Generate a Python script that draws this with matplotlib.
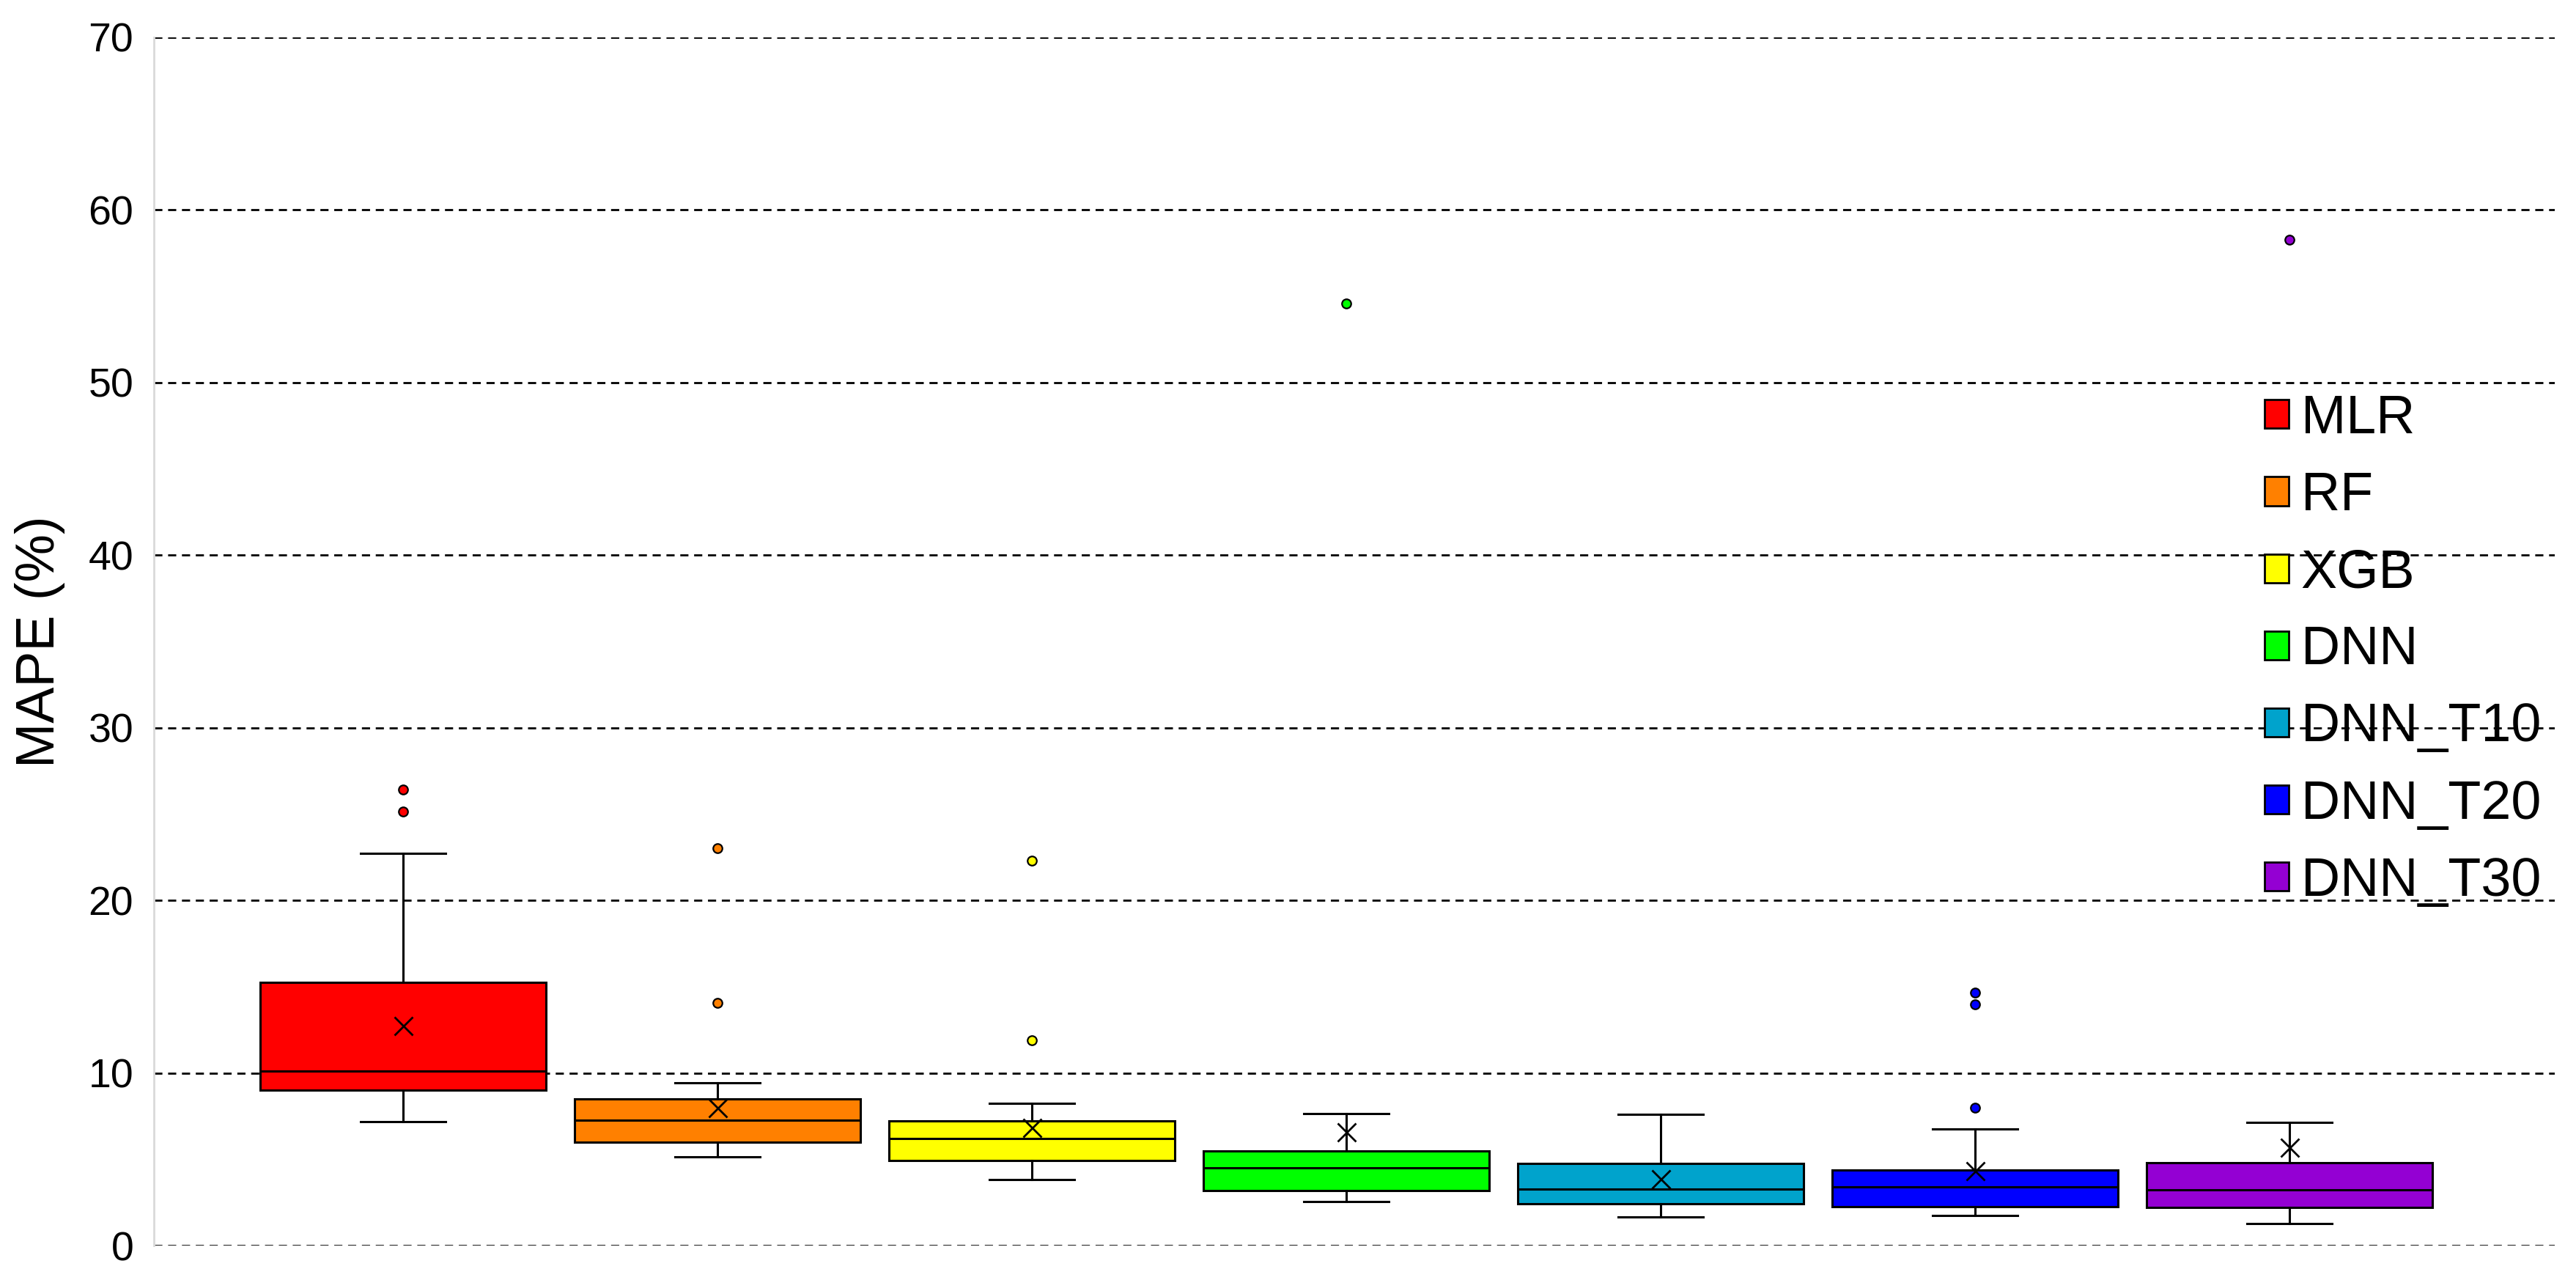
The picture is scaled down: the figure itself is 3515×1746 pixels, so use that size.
import matplotlib
matplotlib.use("Agg")
import matplotlib.pyplot as plt
from matplotlib.patches import Patch

plt.rcParams["font.family"] = ["Liberation Sans", "DejaVu Sans"]

# Valori (MAPE in %).
labels = ["MLR", "RF", "XGB", "DNN", "DNN_T10", "DNN_T20", "DNN_T30"]
colors = ["#FF0000", "#FF8000", "#FFFF00", "#00FF00", "#00A3CC", "#0000FF", "#9400D3"]
q1 = [8.99, 6.00, 4.91, 3.20, 2.41, 2.25, 2.19]
med = [10.10, 7.26, 6.21, 4.50, 3.27, 3.39, 3.23]
q3 = [15.27, 8.48, 7.22, 5.46, 4.75, 4.36, 4.79]
whislo = [7.16, 5.13, 3.83, 2.56, 1.64, 1.74, 1.26]
whishi = [22.74, 9.43, 8.24, 7.63, 7.61, 6.77, 7.12]
means = [12.74, 7.97, 6.86, 6.59, 3.87, 4.32, 5.70]
fliers = [[25.15, 26.43], [14.04, 23.02], [11.91, 22.31], [54.57], [], [7.97, 13.96, 14.67], [58.29]]
yticks = [0, 10, 20, 30, 40, 50, 60, 70]

stats = []
for i in range(len(labels)):
    stats.append({
        "label": labels[i], "q1": q1[i], "med": med[i], "q3": q3[i],
        "whislo": whislo[i], "whishi": whishi[i], "mean": means[i],
        "fliers": fliers[i],
    })

fig = plt.figure(figsize=(17.58, 8.73), dpi=200)
ax = fig.add_axes([0.0597, 0.0269, 0.9318, 0.9439])

positions = list(range(1, len(labels) + 1))
bp = ax.bxp(
    stats, positions=positions, widths=0.91, capwidths=0.27,
    patch_artist=True, showmeans=True, showfliers=True,
    boxprops=dict(edgecolor="black", linewidth=1.1),
    medianprops=dict(color="black", linewidth=1.1),
    whiskerprops=dict(color="black", linewidth=1.1),
    capprops=dict(color="black", linewidth=1.1),
    meanprops=dict(marker="x", markeredgecolor="black", markersize=9, markeredgewidth=1.0),
    flierprops=dict(marker="o", markeredgecolor="black", markersize=4.5, markeredgewidth=0.8),
)
for box, fl, c in zip(bp["boxes"], bp["fliers"], colors):
    box.set_facecolor(c)
    fl.set_markerfacecolor(c)

ax.set_xlim(0.2075, 7.844)
ax.set_ylim(0, 70)
ax.set_yticks(yticks)
ax.set_xticks([])
ax.tick_params(axis="y", length=0, pad=10, labelsize=20)
ax.grid(axis="y", color="black", linestyle=(0, (4, 2.8)), linewidth=1.0)
ax.set_axisbelow(True)
for s in ["top", "right", "bottom"]:
    ax.spines[s].set_visible(False)
ax.spines["left"].set_color("#D9D9D9")
ax.spines["left"].set_linewidth(1.0)

ax.set_ylabel("MAPE (%)", fontsize=26.5)
ax.yaxis.set_label_coords(-0.037, 0.5)

handles = [Patch(facecolor=c, edgecolor="black", linewidth=1.0) for c in colors]
ax.legend(handles, labels, loc="upper left", bbox_to_anchor=(0.879, 0.705),
          frameon=False, fontsize=26.5, handlelength=0.45, handleheight=0.44,
          handletextpad=0.23, labelspacing=0.49, borderpad=0, borderaxespad=0)

fig.savefig("out.png", dpi=200)
